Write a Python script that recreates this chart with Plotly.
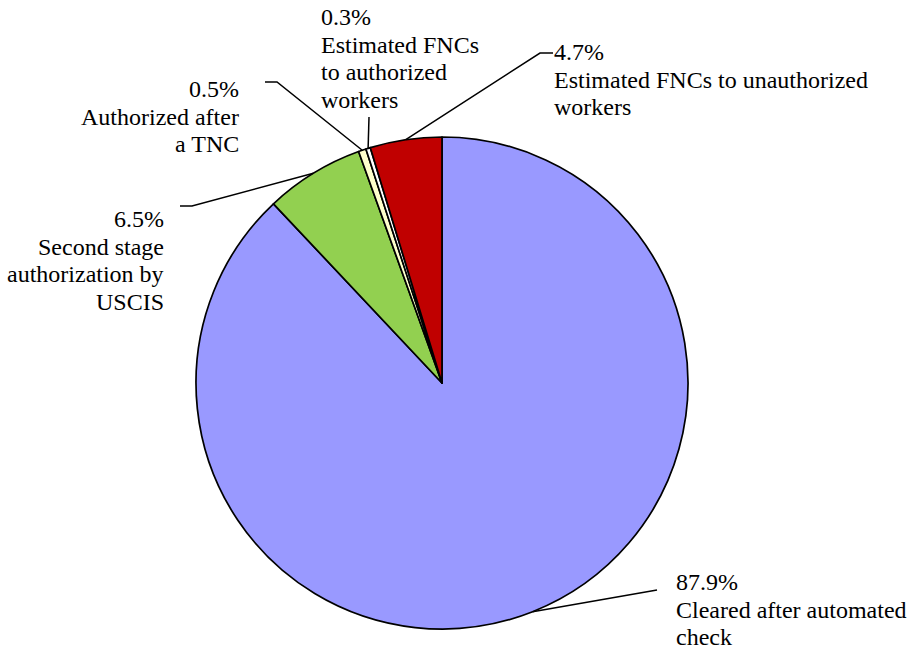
import plotly.graph_objects as go
import math

# ---- data ----
categories = [
    "Cleared after automated check",
    "Second stage authorization by USCIS",
    "Authorized after a TNC",
    "Estimated FNCs to authorized workers",
    "Estimated FNCs to unauthorized workers",
]
label_lines = [
    ["Cleared after automated", "check"],
    ["Second stage", "authorization by", "USCIS"],
    ["Authorized after", "a TNC"],
    ["Estimated FNCs", "to authorized", "workers"],
    ["Estimated FNCs to unauthorized", "workers"],
]
values = [87.9, 6.5, 0.5, 0.3, 4.7]
colors = ["#9999FF", "#92D050", "#FFFFCC", "#FFFFFF", "#C00000"]

# ---- layout constants (pixels in the 910x649 window) ----
W, H = 910, 649
CX, CY, R = 442, 383, 246
FS = 24
LINE_H = 27.5
FONT = dict(family="'Times New Roman', 'Liberation Serif', serif", size=FS, color="black")

label_pos = [
    dict(tx=675, base=590, align="left", path=[(657, 590)]),
    dict(tx=165, base=227, align="right", path=[(192, 206), (180, 206)]),
    dict(tx=240, base=97, align="right", path=[(277, 82), (265, 82)]),
    dict(tx=320, base=25, align="left", path=[(369, 117)]),
    dict(tx=553, base=60, align="left", path=[(540, 53), (553, 53)]),
]


def px(x):
    return x / W


def py(y):
    return 1 - y / H


fig = go.Figure()
fig.add_trace(go.Pie(
    labels=categories,
    values=values,
    sort=False,
    direction="clockwise",
    rotation=0,
    marker=dict(colors=colors, line=dict(color="black", width=1.7)),
    textinfo="none",
    showlegend=False,
    domain=dict(x=[px(CX - R), px(CX + R)], y=[py(CY + R), py(CY - R)]),
))

total = sum(values)
cum = 0.0
shapes = []
annotations = []
for i, v in enumerate(values):
    theta = 2 * math.pi * (cum + v / 2) / total
    cum += v
    ex = CX + R * math.sin(theta)
    ey = CY - R * math.cos(theta)
    pts = [(ex, ey)] + label_pos[i]["path"]
    d = "M {} {}".format(px(pts[0][0]), py(pts[0][1]))
    for (a, b) in pts[1:]:
        d += " L {} {}".format(px(a), py(b))
    shapes.append(dict(type="path", path=d, xref="paper", yref="paper",
                       line=dict(color="black", width=1.5)))
    lines = ["{:.1f}%".format(v)] + label_lines[i]
    lp = label_pos[i]
    for k, ln in enumerate(lines):
        base = lp["base"] + k * LINE_H
        annotations.append(dict(
            text=ln, x=px(lp["tx"]), y=py(base - 8), xref="paper", yref="paper",
            xanchor="left" if lp["align"] == "left" else "right", yanchor="middle",
            align=lp["align"], showarrow=False, font=FONT, borderpad=0,
        ))

fig.update_layout(
    width=W, height=H,
    margin=dict(l=0, r=0, t=0, b=0),
    font=FONT,
    paper_bgcolor="white", plot_bgcolor="white",
    shapes=shapes, annotations=annotations,
)
fig.write_html("out.html",
               config={"displayModeBar": False},
               post_script="document.body.style.margin='0px';document.body.style.overflow='hidden';")
